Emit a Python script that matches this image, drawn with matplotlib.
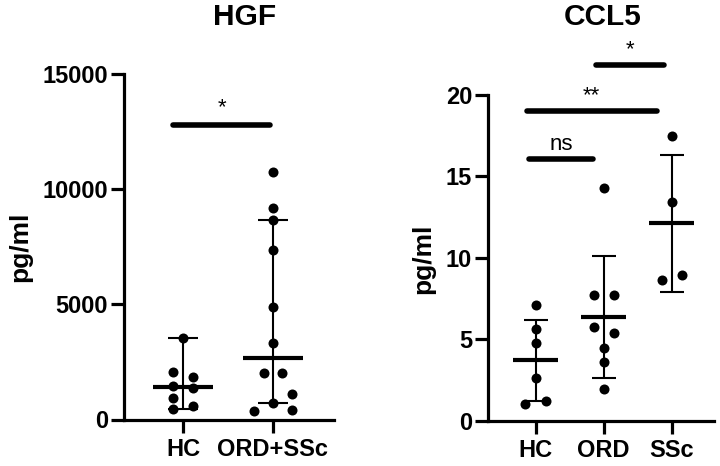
import numpy as np
import matplotlib
matplotlib.use("Agg")
import matplotlib.pyplot as plt

plt.rcParams['font.family'] = ['Liberation Sans', 'DejaVu Sans']

# HGF (pg/ml), median with 95% CI
hgf_groups = ["HC", "ORD+SSc"]
hgf_hc = [3522, 2073, 1840, 1450, 1350, 942, 464, 580]
hgf_hc_jitter = [0, -0.11, 0.11, -0.11, 0.11, -0.11, -0.11, 0.11]
hgf_ord = [10725, 9203, 8652, 7362, 4899, 3340, 2000, 2030, 1087, 725, 361, 391]
hgf_ord_jitter = [0, 0, 0, 0, 0, 0, -0.105, 0.105, 0.21, 0, -0.21, 0.21]
hgf_ci_low = [464, 725]
hgf_ci_high = [3522, 8652]

# CCL5 (pg/ml), mean with SD
ccl5_groups = ["HC", "ORD", "SSc"]
ccl5_hc = [7.07, 5.6, 4.79, 2.59, 1.02, 1.18]
ccl5_hc_jitter = [0, 0, 0, 0, -0.15, 0.15]
ccl5_ord = [14.3, 7.74, 7.74, 5.77, 5.4, 4.44, 3.61, 1.94]
ccl5_ord_jitter = [0, -0.147, 0.147, -0.147, 0.147, 0, 0, 0]
ccl5_ssc = [17.5, 13.44, 8.61, 8.96]
ccl5_ssc_jitter = [0, 0, -0.147, 0.147]

fig = plt.figure(figsize=(7.2, 4.66), dpi=100)

LW = 2.3


def style_axis(ax, top):
    for s in ['top', 'right']:
        ax.spines[s].set_visible(False)
    ax.spines['left'].set_linewidth(LW)
    ax.spines['bottom'].set_linewidth(LW)
    ax.spines['left'].set_bounds(0, top)
    ax.tick_params(axis='both', width=LW, length=9.5, labelsize=17, pad=2)
    ax.tick_params(axis='x', pad=4)
    for lab in ax.get_xticklabels() + ax.get_yticklabels():
        lab.set_fontweight('bold')


def draw_group(ax, x, vals, jitter, center, low, high, w_center, w_cap):
    ax.vlines(x, low, high, color='black', lw=1.5, zorder=2)
    ax.hlines([low, high], x - w_cap, x + w_cap, color='black', lw=1.5, zorder=2)
    ax.hlines(center, x - w_center, x + w_center, color='black', lw=3, zorder=2)
    ax.scatter(x + np.array(jitter), vals, s=52, color='black', zorder=3, linewidths=0)


def sig_bar(ax, x1, x2, y, label, dy, size=16):
    ax.plot([x1, x2], [y, y], color='black', lw=4, solid_capstyle='round',
            clip_on=False)
    ax.text((x1 + x2) / 2, y + dy, label, ha='center', va='bottom',
            fontsize=size, clip_on=False)


# ---- HGF panel
ax1 = fig.add_axes([124 / 720, (466 - 419.5) / 466, 210 / 720, 345.5 / 466])
ax1.set_xlim(-0.656, 1.678)
ax1.set_ylim(0, 15000)
for i, (vals, jit) in enumerate([(hgf_hc, hgf_hc_jitter), (hgf_ord, hgf_ord_jitter)]):
    draw_group(ax1, i, vals, jit, np.median(vals), hgf_ci_low[i], hgf_ci_high[i], 0.33, 0.17)
ax1.set_xticks([0, 1])
ax1.set_xticklabels(hgf_groups)
ax1.set_yticks([0, 5000, 10000, 15000])
style_axis(ax1, 15000)
sig_bar(ax1, -0.11, 0.97, 12800, "*", 300)

# ---- CCL5 panel
ax2 = fig.add_axes([488 / 720, (466 - 420.5) / 466, 226 / 720, 24 * 16.27 / 466])
ax2.set_xlim(-0.70, 2.62)
ax2.set_ylim(0, 24)
for i, (vals, jit) in enumerate([(ccl5_hc, ccl5_hc_jitter), (ccl5_ord, ccl5_ord_jitter),
                                 (ccl5_ssc, ccl5_ssc_jitter)]):
    m = np.mean(vals)
    sd = np.std(vals, ddof=1)
    draw_group(ax2, i, vals, jit, m, m - sd, m + sd, 0.33, 0.175)
ax2.set_xticks([0, 1, 2])
ax2.set_xticklabels(ccl5_groups)
ax2.set_yticks([0, 5, 10, 15, 20])
style_axis(ax2, 20)
sig_bar(ax2, -0.094, 0.847, 16.05, "ns", 0.25)
sig_bar(ax2, -0.133, 1.78, 19.0, "**", 0.3)
sig_bar(ax2, 0.887, 1.887, 21.85, "*", 0.3)

# titles and axis labels
fig.text(245 / 720, 1 - 17 / 466, "HGF", ha='center', va='center',
         fontsize=21.5, fontweight='bold')
fig.text(602.5 / 720, 1 - 17 / 466, "CCL5", ha='center', va='center',
         fontsize=21.5, fontweight='bold')
fig.text(20 / 720, 1 - 247 / 466, "pg/ml", rotation=90, ha='center', va='center',
         fontsize=19, fontweight='bold')
fig.text(423 / 720, 1 - 259 / 466, "pg/ml", rotation=90, ha='center', va='center',
         fontsize=19, fontweight='bold')

fig.savefig("out.png", dpi=100)
